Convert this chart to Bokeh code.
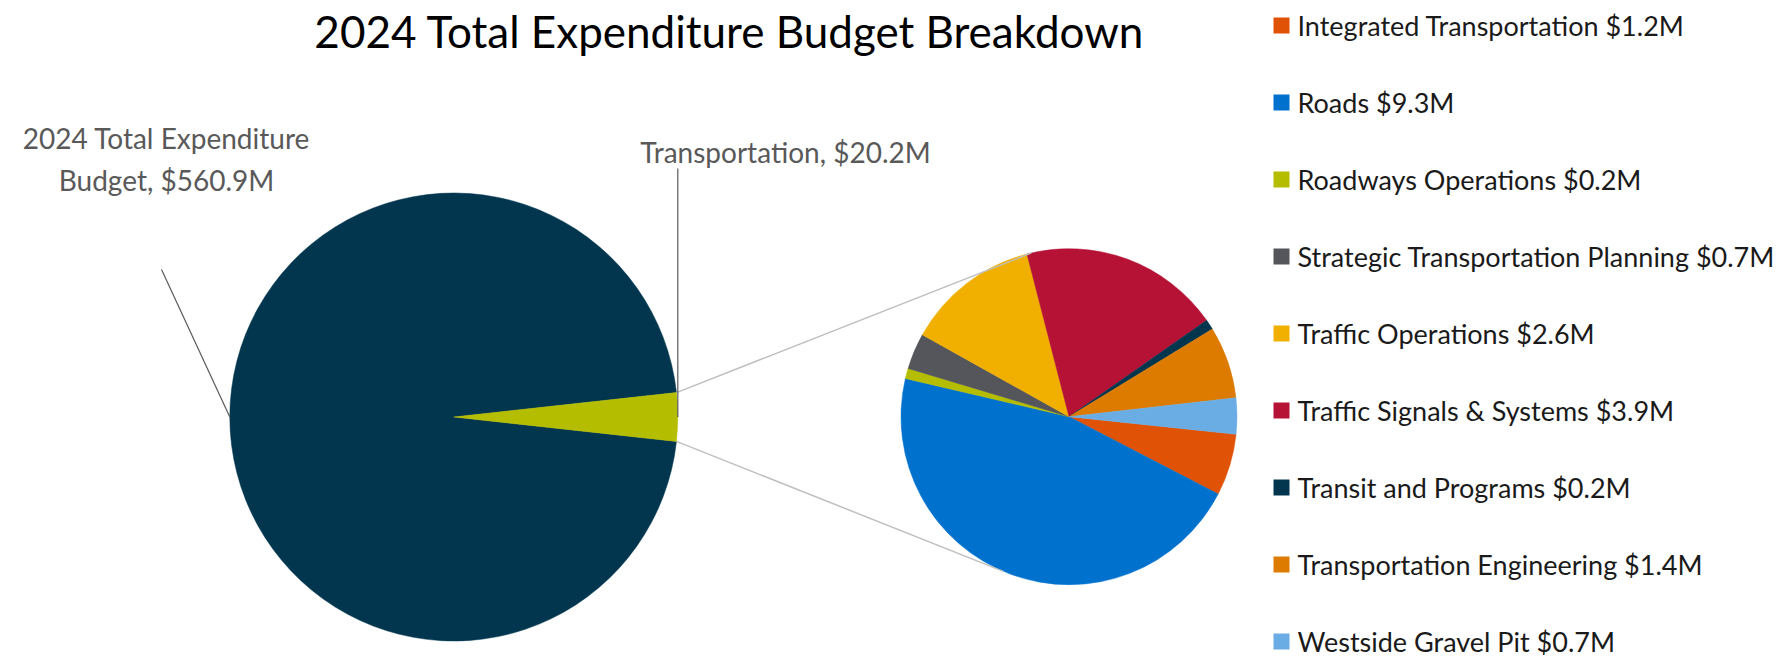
import math
from bokeh.plotting import figure
from bokeh.models import Range1d, Label, ColumnDataSource
from bokeh.core.properties import value
from bokeh.embed import file_html
from bokeh.resources import INLINE

# ---------------- data ----------------
title_text = "2024 Total Expenditure Budget Breakdown"
main_names = ["2024 Total Expenditure Budget", "Transportation"]
main_values = [560.9, 20.2]
main_colors = ["#02364F", "#B5BD00"]

sub_names = ["Integrated Transportation", "Roads", "Roadways Operations",
             "Strategic Transportation Planning", "Traffic Operations",
             "Traffic Signals & Systems", "Transit and Programs",
             "Transportation Engineering", "Westside Gravel Pit"]
sub_values = [1.2, 9.3, 0.2, 0.7, 2.6, 3.9, 0.2, 1.4, 0.7]
sub_colors = ["#E05206", "#0072CE", "#B5BD00", "#54565B", "#F1B000",
              "#B51235", "#02364F", "#DD7A00", "#6AADE4"]

# ---------------- layout (screen px -> data: x = sx, y = 660 - sy) ----------------
W, H = 1792, 660
FONT = "Lato"

def Y(sy):
    return H - sy

p = figure(width=W, height=H, output_backend="svg", toolbar_location=None,
           x_range=Range1d(0, W), y_range=Range1d(0, H),
           min_border=0, tools="")
p.axis.visible = False
p.xgrid.visible = False
p.ygrid.visible = False
p.outline_line_color = None
p.background_fill_color = "white"
p.border_fill_color = "white"

# main pie
mcx, mcy, mr = 453.3, Y(416.5), 224.0
tot = sum(main_values)
trans_ang = main_values[1] / tot * 2 * math.pi
t_start, t_end = -trans_ang / 2, trans_ang / 2
p.wedge(x=[mcx, mcx], y=[mcy, mcy], radius=mr,
        start_angle=[t_end, t_start], end_angle=[t_start + 2 * math.pi, t_end],
        direction="anticlock", fill_color=main_colors, line_color=main_colors,
        line_width=0.5)

# second pie
scx, scy, sr = 1068.5, Y(416.2), 168.0
stot = sum(sub_values)
start = math.radians(-6.0)
bounds = [start]
for v in sub_values:
    bounds.append(bounds[-1] - v / stot * 2 * math.pi)
src = ColumnDataSource(dict(
    s=[bounds[i + 1] for i in range(len(sub_values))],
    e=[bounds[i] for i in range(len(sub_values))],
    c=sub_colors))
p.wedge(x=scx, y=scy, radius=sr, start_angle="s", end_angle="e",
        direction="anticlock", fill_color="c", line_color="c", line_width=0.5,
        source=src)

# connector lines
a_up, a_dn = math.radians(103), math.radians(-113)
p.line([mcx + mr * math.cos(t_end), scx + sr * math.cos(a_up)],
       [mcy + mr * math.sin(t_end), scy + sr * math.sin(a_up)],
       line_color="#BFBFBF", line_width=1.5)
p.line([mcx + mr * math.cos(t_start), scx + sr * math.cos(a_dn)],
       [mcy + mr * math.sin(t_start), scy + sr * math.sin(a_dn)],
       line_color="#BFBFBF", line_width=1.5)

# leader lines
p.line([mcx + mr, mcx + mr], [mcy, Y(168)], line_color="#595959", line_width=1.2)
p.line([mcx - mr, 161], [mcy, Y(269)], line_color="#595959", line_width=1.2)

# title
p.add_layout(Label(x=729, y=Y(30), text=title_text, text_align="center",
                   text_baseline="middle", text_font=FONT, text_font_size="44px",
                   text_color="#000000"))

# data labels
lbl_color = "#595959"
p.add_layout(Label(x=166, y=Y(137), text="2024 Total Expenditure",
                   text_align="center", text_baseline="middle", text_font=FONT,
                   text_font_size="28px", text_color=lbl_color))
p.add_layout(Label(x=166, y=Y(179), text=f"Budget, ${main_values[0]}M",
                   text_align="center", text_baseline="middle", text_font=FONT,
                   text_font_size="28px", text_color=lbl_color))
p.add_layout(Label(x=785, y=Y(151), text=f"{main_names[1]}, ${main_values[1]}M",
                   text_align="center", text_baseline="middle", text_font=FONT,
                   text_font_size="28px", text_color=lbl_color))

# legend
ly = [Y(25 + i * 77.0) for i in range(len(sub_names))]
leg = ColumnDataSource(dict(
    x=[1281] * len(sub_names), y=ly, c=sub_colors,
    tx=[1297] * len(sub_names),
    t=[f"{n} ${v}M" for n, v in zip(sub_names, sub_values)]))
p.scatter(x="x", y="y", marker="square", size=16, fill_color="c", line_color=None,
          source=leg)
p.text(x="tx", y="y", text="t", text_font=value(FONT), text_font_size="27px",
       text_baseline="middle", text_align="left", text_color="#1A1A1A", source=leg)

open("out.html", "w").write(file_html(p, INLINE))
